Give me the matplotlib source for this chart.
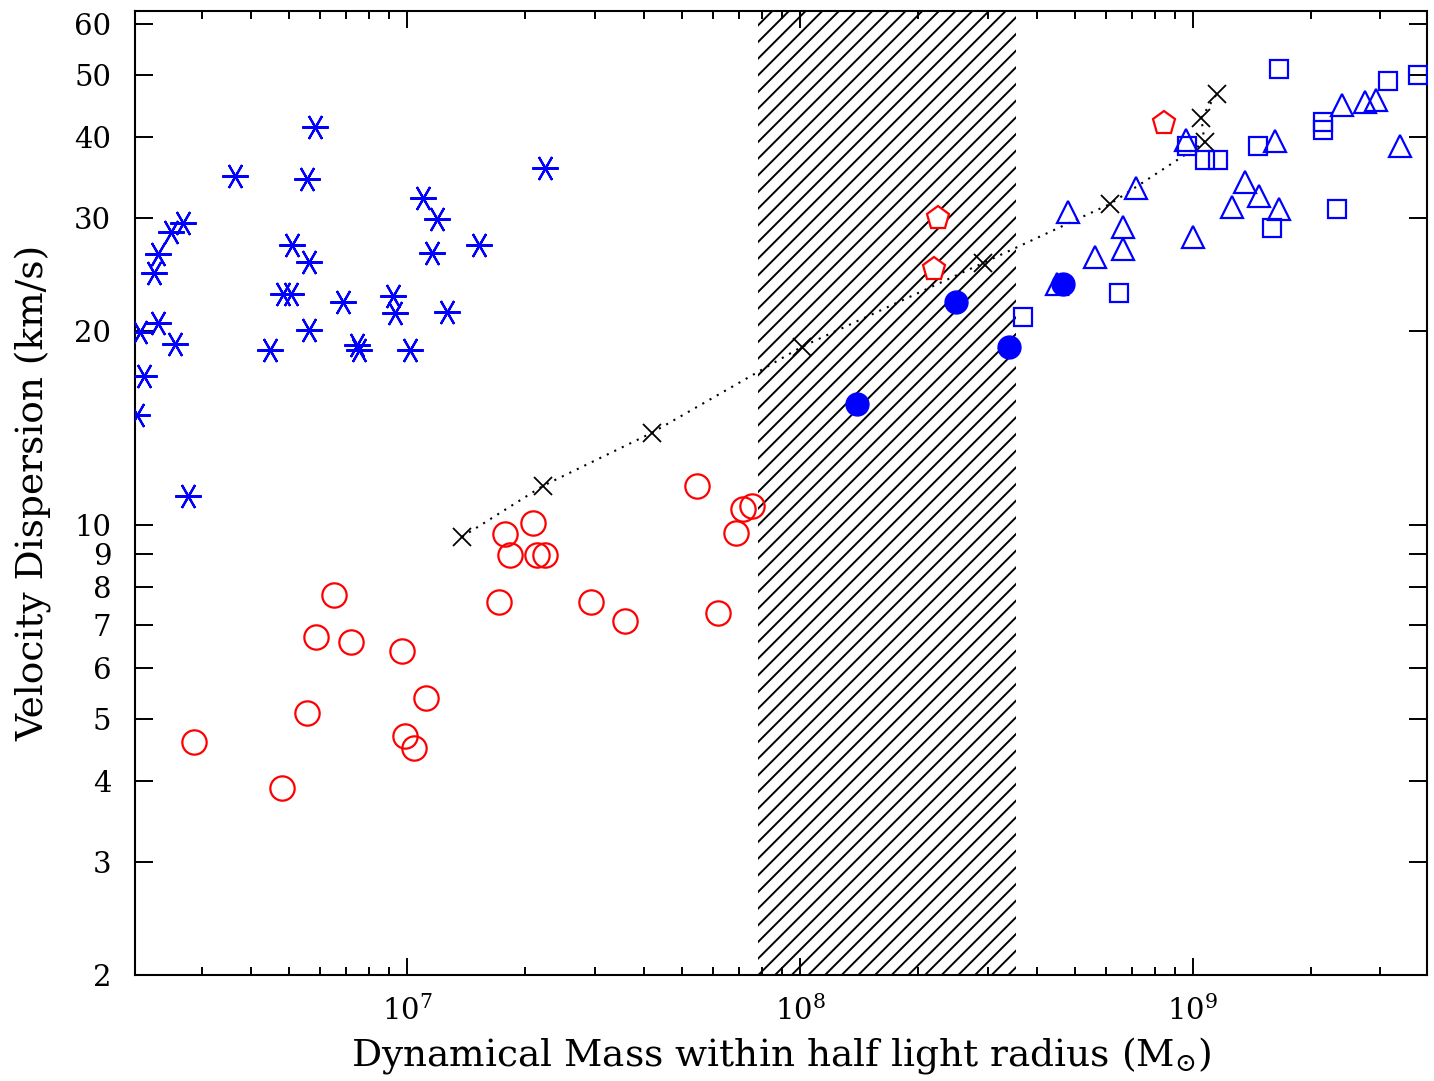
import matplotlib
matplotlib.use('Agg')
import matplotlib.pyplot as plt
from matplotlib.ticker import FixedLocator, FixedFormatter, LogLocator

#----------------------------------------------------
# Data (mass in M_sun, sigma in km/s)
#----------------------------------------------------
# blue asterisks
ast_mass = [5.83e6, 3.65e6, 5.57e6, 1.10e7, 1.19e7, 2.69e6, 2.51e6, 5.09e6,
            1.52e7, 1.16e7, 2.32e6, 5.63e6, 2.27e6, 4.83e6, 5.07e6, 6.87e6,
            9.21e6, 9.32e6, 1.26e7, 2.32e6, 5.63e6, 2.09e6, 2.57e6, 4.48e6,
            7.46e6, 7.55e6, 1.02e7, 2.14e6, 2.06e6, 2.77e6, 2.24e7]
ast_sigma = [41.5, 34.8, 34.4, 32.2, 29.9, 29.4, 28.5, 27.2,
             27.2, 26.4, 26.3, 25.6, 24.6, 22.8, 22.8, 22.2,
             22.7, 21.3, 21.4, 20.6, 20.1, 19.9, 19.1, 18.7,
             19.0, 18.7, 18.7, 17.0, 14.8, 11.1, 35.8]

# red open circles
circ_mass = [2.87e6, 4.81e6, 5.57e6, 5.87e6, 6.52e6, 7.21e6, 9.71e6, 1.12e7,
             9.88e6, 1.04e7, 1.71e7, 1.78e7, 2.09e7, 1.83e7, 2.14e7, 2.24e7,
             2.94e7, 5.47e7, 7.16e7, 7.55e7, 6.87e7, 3.59e7, 6.18e7]
circ_sigma = [4.60, 3.90, 5.11, 6.70, 7.78, 6.58, 6.37, 5.39,
              4.70, 4.51, 7.59, 9.69, 10.07, 8.98, 8.98, 8.98,
              7.59, 11.5, 10.6, 10.7, 9.72, 7.09, 7.30]

# red pentagons
pent_mass = [2.24e8, 2.19e8, 8.44e8]
pent_sigma = [30.0, 25.0, 42.1]

# blue filled circles
dot_mass = [1.40e8, 2.49e8, 3.40e8, 4.67e8]
dot_sigma = [15.4, 22.2, 18.9, 23.7]

# blue open triangles
tri_mass = [4.81e8, 7.16e8, 6.64e8, 6.64e8, 5.63e8, 1.00e9, 1.26e9, 1.36e9,
            1.47e9, 1.66e9, 1.62e9, 2.39e9, 2.74e9, 2.92e9, 3.36e9, 9.60e8,
            4.51e8]
tri_sigma = [30.6, 33.4, 29.0, 26.8, 26.1, 28.0, 31.2, 34.1,
             32.4, 30.9, 39.5, 44.9, 45.4, 45.7, 38.8, 39.6,
             23.7]

# blue open squares
sq_mass = [1.66e9, 3.13e9, 3.74e9, 2.14e9, 2.14e9, 1.46e9, 9.66e8, 1.07e9,
           1.16e9, 2.32e9, 1.59e9, 6.48e8, 3.69e8]
sq_sigma = [51.1, 48.9, 50.0, 42.2, 41.1, 38.8, 38.8, 36.9,
            36.9, 30.9, 28.9, 22.9, 21.0]

# black crosses joined by dotted line
x_mass = [1.38e7, 2.22e7, 4.20e7, 1.01e8, 2.92e8, 6.15e8, 1.07e9, 1.05e9, 1.15e9]
x_sigma = [9.58, 11.5, 13.9, 18.9, 25.5, 31.5, 39.3, 42.9, 46.7]

# hatched mass band
band = [7.82e7, 3.55e8]

yticks = [2, 3, 4, 5, 6, 7, 8, 9, 10, 20, 30, 40, 50, 60]

#----------------------------------------------------
# Plot
#----------------------------------------------------
plt.rcParams['font.family'] = 'DejaVu Serif'
plt.rcParams['mathtext.fontset'] = 'dejavuserif'
plt.rcParams['hatch.linewidth'] = 1.4

fig = plt.figure(figsize=(14.34, 10.81), dpi=100)
ax = fig.add_axes([0.0941, 0.0981, 0.9010, 0.8917])
ax.set_xscale('log')
ax.set_yscale('log')

ax.axvspan(band[0], band[1], facecolor='none', edgecolor='black',
           hatch='//', linewidth=0, zorder=1)

ax.plot(x_mass, x_sigma, color='black', linestyle=(0, (1, 3)), linewidth=1.5,
        marker='x', markersize=13, markeredgewidth=1.3, zorder=2)

ax.plot(ast_mass, ast_sigma, linestyle='none', marker=(6, 2, 90),
        markersize=19, markeredgecolor='blue', markeredgewidth=1.6, zorder=3)
ax.plot(circ_mass, circ_sigma, linestyle='none', marker='o', markersize=17.5,
        markerfacecolor='none', markeredgecolor='red', markeredgewidth=1.6, zorder=3)
ax.plot(pent_mass, pent_sigma, linestyle='none', marker='p', markersize=17,
        markerfacecolor='white', markeredgecolor='red', markeredgewidth=1.6, zorder=3)
ax.plot(dot_mass, dot_sigma, linestyle='none', marker='o', markersize=16.5,
        markerfacecolor='blue', markeredgecolor='blue', zorder=3)
ax.plot(tri_mass, tri_sigma, linestyle='none', marker='^', markersize=16,
        markerfacecolor='none', markeredgecolor='blue', markeredgewidth=1.6, zorder=3)
ax.plot(sq_mass, sq_sigma, linestyle='none', marker='s', markersize=13.5,
        markerfacecolor='none', markeredgecolor='blue', markeredgewidth=1.6, zorder=3)

ax.set_xlim(2.03e6, 3.94e9)
ax.set_ylim(2, 62.8)

ax.yaxis.set_major_locator(FixedLocator(yticks))
ax.yaxis.set_major_formatter(FixedFormatter([str(t) for t in yticks]))
ax.yaxis.set_minor_locator(FixedLocator([]))
ax.xaxis.set_major_locator(LogLocator(base=10))
ax.xaxis.set_minor_locator(LogLocator(base=10, subs=range(2, 10)))

ax.tick_params(which='both', direction='in', top=True, right=True, width=1.4)
ax.tick_params(axis='x', which='major', length=12, pad=15, labelsize=21)
ax.tick_params(axis='x', which='minor', length=6)
ax.tick_params(axis='y', which='major', length=13, pad=17, labelsize=21)
for s in ax.spines.values():
    s.set_linewidth(1.5)

ax.set_xlabel(r'Dynamical Mass within half light radius (M$_{\odot}$)', fontsize=27, labelpad=6)
ax.set_ylabel('Velocity Dispersion (km/s)', fontsize=27, labelpad=16)

fig.savefig('out.png', dpi=100)
